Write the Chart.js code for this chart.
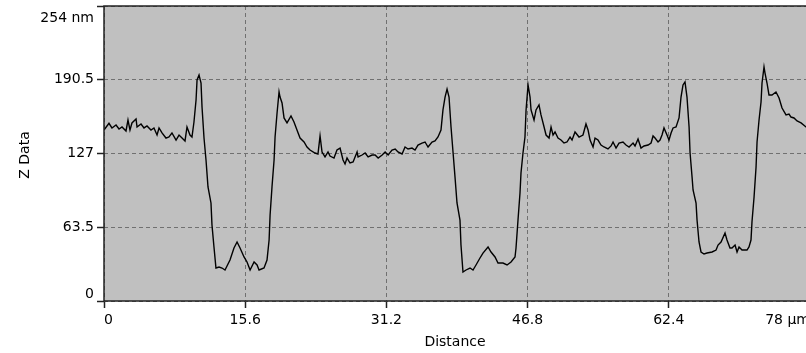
<!DOCTYPE html>
<html>
<head>
<meta charset="utf-8">
<script src="https://cdn.jsdelivr.net/npm/chart.js@4/dist/chart.umd.min.js"></script>
<style>
    html, body {margin: 0; padding: 0; background: #fff; overflow: hidden;}
    canvas {display: block;}
</style>
</head>
<body>
<canvas id="c" width="812" height="353"></canvas>
<script>
// profile: distance in µm, height in nm
const distance = [
    0, 0.55, 0.88, 1.33, 1.66, 1.99, 2.43, 2.65, 2.87, 3.09, 3.54, 3.65, 4.09, 4.42, 4.75, 5.19, 5.52, 5.86, 6.08, 6.41,
    6.85, 7.18, 7.51, 7.96, 8.29, 8.62, 8.95, 9.17, 9.50, 9.72, 9.94, 10.17, 10.28, 10.50, 10.72, 10.83, 11.05, 11.27, 11.49, 11.82,
    11.93, 12.15, 12.37, 12.71, 13.04,
    13.37, 13.92, 14.36, 14.70, 15.03, 15.47, 15.80, 16.14, 16.58, 16.91, 17.13, 17.68, 18.01, 18.24, 18.35, 18.56, 18.79, 18.90, 19.12, 19.34,
    19.45, 19.67, 19.89, 20.22, 20.66, 20.99, 21.32, 21.66, 22.10, 22.43, 22.76, 23.31, 23.64, 23.87, 24.09, 24.42, 24.75, 24.97, 25.41, 25.74,
    26.08,
    26.41, 26.63, 26.85, 27.18, 27.52, 27.96, 28.07, 28.51, 28.85, 29.18, 29.62, 29.95, 30.29, 30.73, 31.06, 31.39, 31.82, 32.17, 32.48, 32.93,
    33.26, 33.59, 34.03, 34.36, 34.69, 35.13, 35.47, 35.80, 36.24, 36.57, 36.90, 37.23, 37.45, 37.68, 37.90, 38.12, 38.34, 38.56, 38.78, 39.00,
    39.33, 39.44, 39.66, 40.00, 40.44, 40.77, 41.10, 41.54, 41.87, 42.43, 42.76, 43.20, 43.53, 44.08, 44.53, 44.97, 45.41, 45.52, 45.74, 45.96,
    46.07, 46.29, 46.51, 46.63, 46.85, 47.07, 47.18, 47.51, 47.73, 48.06, 48.28, 48.62, 48.84, 49.17, 49.39, 49.61, 49.83, 50.16, 50.49, 50.82,
    51.15, 51.49, 51.71, 52.04,
    52.48, 52.92, 53.25, 53.48, 53.70, 54.03, 54.25, 54.58, 54.91, 55.24, 55.68, 56.02, 56.24, 56.57, 56.90, 57.34, 57.67, 58.01, 58.45, 58.67,
    59.00, 59.33, 59.66, 60.11, 60.44, 60.66, 60.88, 61.21, 61.43, 61.65, 61.87, 62.20, 62.42, 62.65, 62.87, 63.20, 63.53, 63.75, 63.97, 64.19,
    64.41, 64.64, 64.75, 64.97, 65.08,
    65.41, 65.52, 65.74, 65.96, 66.29, 66.62, 67.18, 67.62, 67.84, 68.17, 68.61, 68.83, 69.16, 69.38, 69.72, 69.94, 70.16, 70.49, 71.04, 71.26,
    71.48, 71.59, 71.82, 72.04, 72.15, 72.37, 72.59, 72.70, 72.92, 73.03, 73.25, 73.47, 73.80, 74.24, 74.58, 74.91, 75.35, 75.68, 75.90, 76.23,
    76.57, 77.01, 77.56, 78
]
const zData = [
    147.2, 153.0, 149.0, 151.5, 148.1, 149.8, 146.4, 155.8, 147.2, 153.3, 156.7, 149.8, 152.4, 149.0, 150.7, 147.2, 149.0, 142.9, 149.0, 144.7,
    140.3, 141.2, 144.7, 138.6, 142.9, 140.3, 137.8, 149.8, 142.9, 141.2, 154.1, 173.1, 190.3, 194.6, 187.7, 167.0, 140.3, 121.4, 98.2, 84.4,
    65.4, 46.5, 28.4, 29.3, 28.4,
    26.7, 35.3, 45.6, 50.8, 45.6, 37.9, 33.6, 26.7, 33.6, 31.0, 26.7, 28.4, 35.3, 52.5, 74.0, 98.2, 121.4, 141.2, 161.9, 180.0,
    175.6, 170.5, 157.6, 153.3, 159.3, 154.1, 147.2, 140.3, 136.9, 132.6, 130.0, 127.4, 126.6, 142.1, 128.3, 124.0, 128.3, 124.8, 123.1, 130.0,
    131.7,
    121.4, 118.0, 123.1, 118.8, 119.7, 128.3, 124.0, 125.7, 127.4, 124.0, 125.7, 125.7, 123.1, 125.7, 128.3, 125.7, 130.0, 130.9, 128.3, 126.6,
    132.6, 130.9, 131.7, 130.0, 134.3, 136.0, 136.9, 132.6, 136.9, 137.8, 141.2, 147.2, 164.5, 175.6, 182.5, 175.6, 149.8, 128.3, 106.8, 84.4,
    69.7, 48.2, 25.0, 26.7, 28.4, 26.7, 31.0, 37.0, 41.3, 46.5, 42.2, 37.9, 32.7, 32.7, 31.0, 33.6, 37.9, 45.6, 69.7, 93.0,
    110.2, 127.4, 141.2, 164.5, 186.0, 175.6, 164.5, 155.8, 164.5, 168.8, 160.2, 149.8, 142.9, 140.3, 149.8, 142.9, 145.5, 140.3, 138.6, 136.0,
    136.9, 141.2, 138.6, 145.5,
    141.2, 142.9, 152.4, 147.2, 138.6, 132.6, 140.3, 138.6, 134.3, 132.6, 130.9, 133.5, 136.9, 131.7, 136.0, 136.9, 134.3, 132.6, 136.0, 133.5,
    139.5, 131.7, 133.5, 134.3, 136.0, 142.1, 140.3, 136.9, 138.6, 142.9, 149.0, 142.9, 138.6, 144.7, 149.0, 149.8, 157.6, 175.6, 186.0, 188.6,
    175.6, 149.8, 127.4, 106.8, 95.6,
    84.4, 69.7, 50.8, 42.2, 40.5, 41.3, 42.2, 43.9, 48.2, 50.8, 58.5, 52.5, 45.6, 45.6, 48.2, 42.2, 46.5, 43.9, 43.9, 46.5,
    52.5, 68.0, 89.5, 115.4, 136.9, 155.8, 171.3, 187.7, 201.5, 196.3, 187.7, 177.4, 177.4, 180.0, 174.8, 166.2, 160.2, 161.0, 158.4, 157.6,
    155.0, 153.3, 149.8, 148.0
]

const xTicks = [0, 15.6, 31.2, 46.8, 62.4, 78]
const xLabels = ['0', '15.6', '31.2', '46.8', '62.4', '78 µm']
const yTicks = [0, 63.5, 127, 190.5, 254]
const yLabels = ['0', '63.5', '127', '190.5', '254 nm']

const FONT = '14px "DejaVu Sans", Verdana, sans-serif'

// grey plot box, frame and the hand placed labels of the original
const frame = {
    id: 'frame',
    beforeDraw(chart) {
        const {ctx, chartArea: a} = chart
        ctx.save()
        ctx.fillStyle = '#c0c0c0'
        ctx.fillRect(a.left, a.top, a.right - a.left, a.bottom - a.top)
        ctx.restore()
    },
    afterDraw(chart) {
        const {ctx, chartArea: a} = chart
        const x = chart.scales.x, y = chart.scales.y
        ctx.save()
        ctx.strokeStyle = '#222'
        ctx.lineWidth = 1.5
        ctx.strokeRect(a.left, a.top, a.right - a.left, a.bottom - a.top)

        ctx.font = FONT
        ctx.fillStyle = '#000'
        ctx.textBaseline = 'middle'
        ctx.textAlign = 'right'
        yTicks.forEach((v, i) => {
            let py = y.getPixelForValue(v)
            if (i === 0) py -= 7
            if (i === yTicks.length - 1) py += 12
            ctx.fillText(yLabels[i], a.left - 10, py)
        })
        xTicks.forEach((v, i) => {
            ctx.textAlign = i === 0 ? 'left' : (i === xTicks.length - 1 ? 'right' : 'center')
            ctx.fillText(xLabels[i], x.getPixelForValue(v), a.bottom + 19)
        })

        ctx.textAlign = 'center'
        ctx.fillText('Distance', 455, 342)
        ctx.translate(25, 155)
        ctx.rotate(-Math.PI / 2)
        ctx.fillText('Z Data', 0, 0)
        ctx.restore()
    }
}

const gridOpts = {color: '#707070', lineWidth: 1, tickColor: '#222', tickLength: 7, tickWidth: 1.5}

new Chart(document.getElementById('c'), {
    type: 'line',
    data: {
        datasets: [{
            data: distance.map((d, i) => ({x: d, y: zData[i]})),
            borderColor: '#000',
            borderWidth: 1.4,
            pointRadius: 0,
            tension: 0,
            fill: false
        }]
    },
    options: {
        responsive: false,
        animation: false,
        layout: {padding: {top: 6, right: 2, left: 0, bottom: 0}},
        plugins: {legend: {display: false}, tooltip: {enabled: false}},
        scales: {
            x: {
                type: 'linear', min: 0, max: 78,
                afterBuildTicks: s => { s.ticks = xTicks.map(v => ({value: v})) },
                afterFit: s => { s.height = 52 },
                ticks: {display: false},
                grid: gridOpts,
                border: {display: false, dash: [4, 3]}
            },
            y: {
                min: 0, max: 254,
                afterBuildTicks: s => { s.ticks = yTicks.map(v => ({value: v})) },
                afterFit: s => { s.width = 104 },
                ticks: {display: false},
                grid: gridOpts,
                border: {display: false, dash: [4, 3]}
            }
        }
    },
    plugins: [frame]
})
</script>
</body>
</html>
